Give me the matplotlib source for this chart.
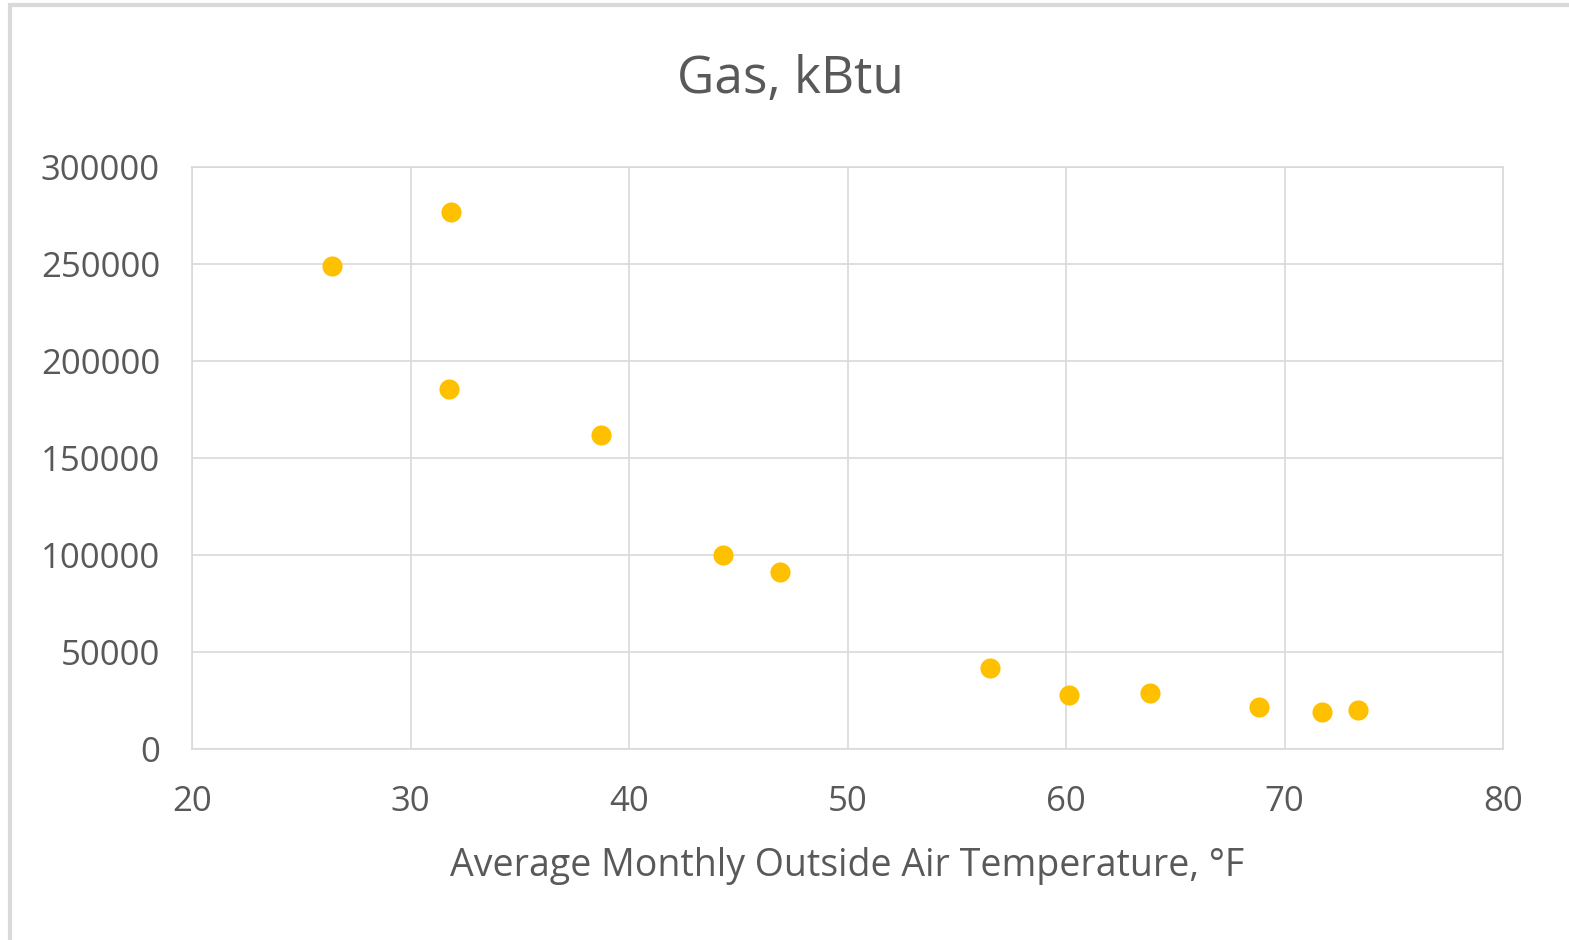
import matplotlib.pyplot as plt
from matplotlib.patches import Rectangle

temp_f = [26.4, 31.85, 31.75, 38.7, 44.3, 46.9, 56.5, 60.15, 63.85, 68.85, 71.7, 73.35]
gas_kbtu = [249000, 276800, 185500, 161900, 100000, 91300, 41800, 27800, 28900, 21700, 19100, 20100]

x_ticks = [20, 30, 40, 50, 60, 70, 80]
y_ticks = [0, 50000, 100000, 150000, 200000, 250000, 300000]

text_color = '#595959'
grid_color = '#D9D9D9'

plt.rcParams['font.family'] = ['Open Sans', 'DejaVu Sans']

fig = plt.figure(figsize=(15.69, 9.40), dpi=100)
ax = fig.add_axes([192 / 1569, 1 - 749 / 940, (1503 - 192) / 1569, (749 - 167) / 940])

# outer chart frame
fig.patches.append(Rectangle((10 / 1569, -0.1), 1.2, 1 - 5 / 940 + 0.1, transform=fig.transFigure,
                             fill=False, edgecolor='#D9D9D9', linewidth=3, zorder=0))

ax.scatter(temp_f, gas_kbtu, s=210, color='#FFC000', zorder=3, linewidths=0)

ax.set_xlim(20, 80)
ax.set_ylim(0, 300000)
ax.set_xticks(x_ticks)
ax.set_yticks(y_ticks)
ax.grid(True, color=grid_color, linewidth=1.2)
ax.set_axisbelow(True)
for s in ax.spines.values():
    s.set_color(grid_color)
    s.set_linewidth(1.2)
ax.tick_params(length=0, labelsize=25, colors=text_color)
ax.tick_params(axis='y', pad=23)
ax.tick_params(axis='x', pad=26)

ax.set_xlabel('Average Monthly Outside Air Temperature, °F', fontsize=27, color=text_color, labelpad=20)
fig.text(790 / 1569, 1 - 80 / 940, 'Gas, kBtu', fontsize=37, color=text_color, ha='center', va='center')

plt.savefig('out.png', dpi=100)
